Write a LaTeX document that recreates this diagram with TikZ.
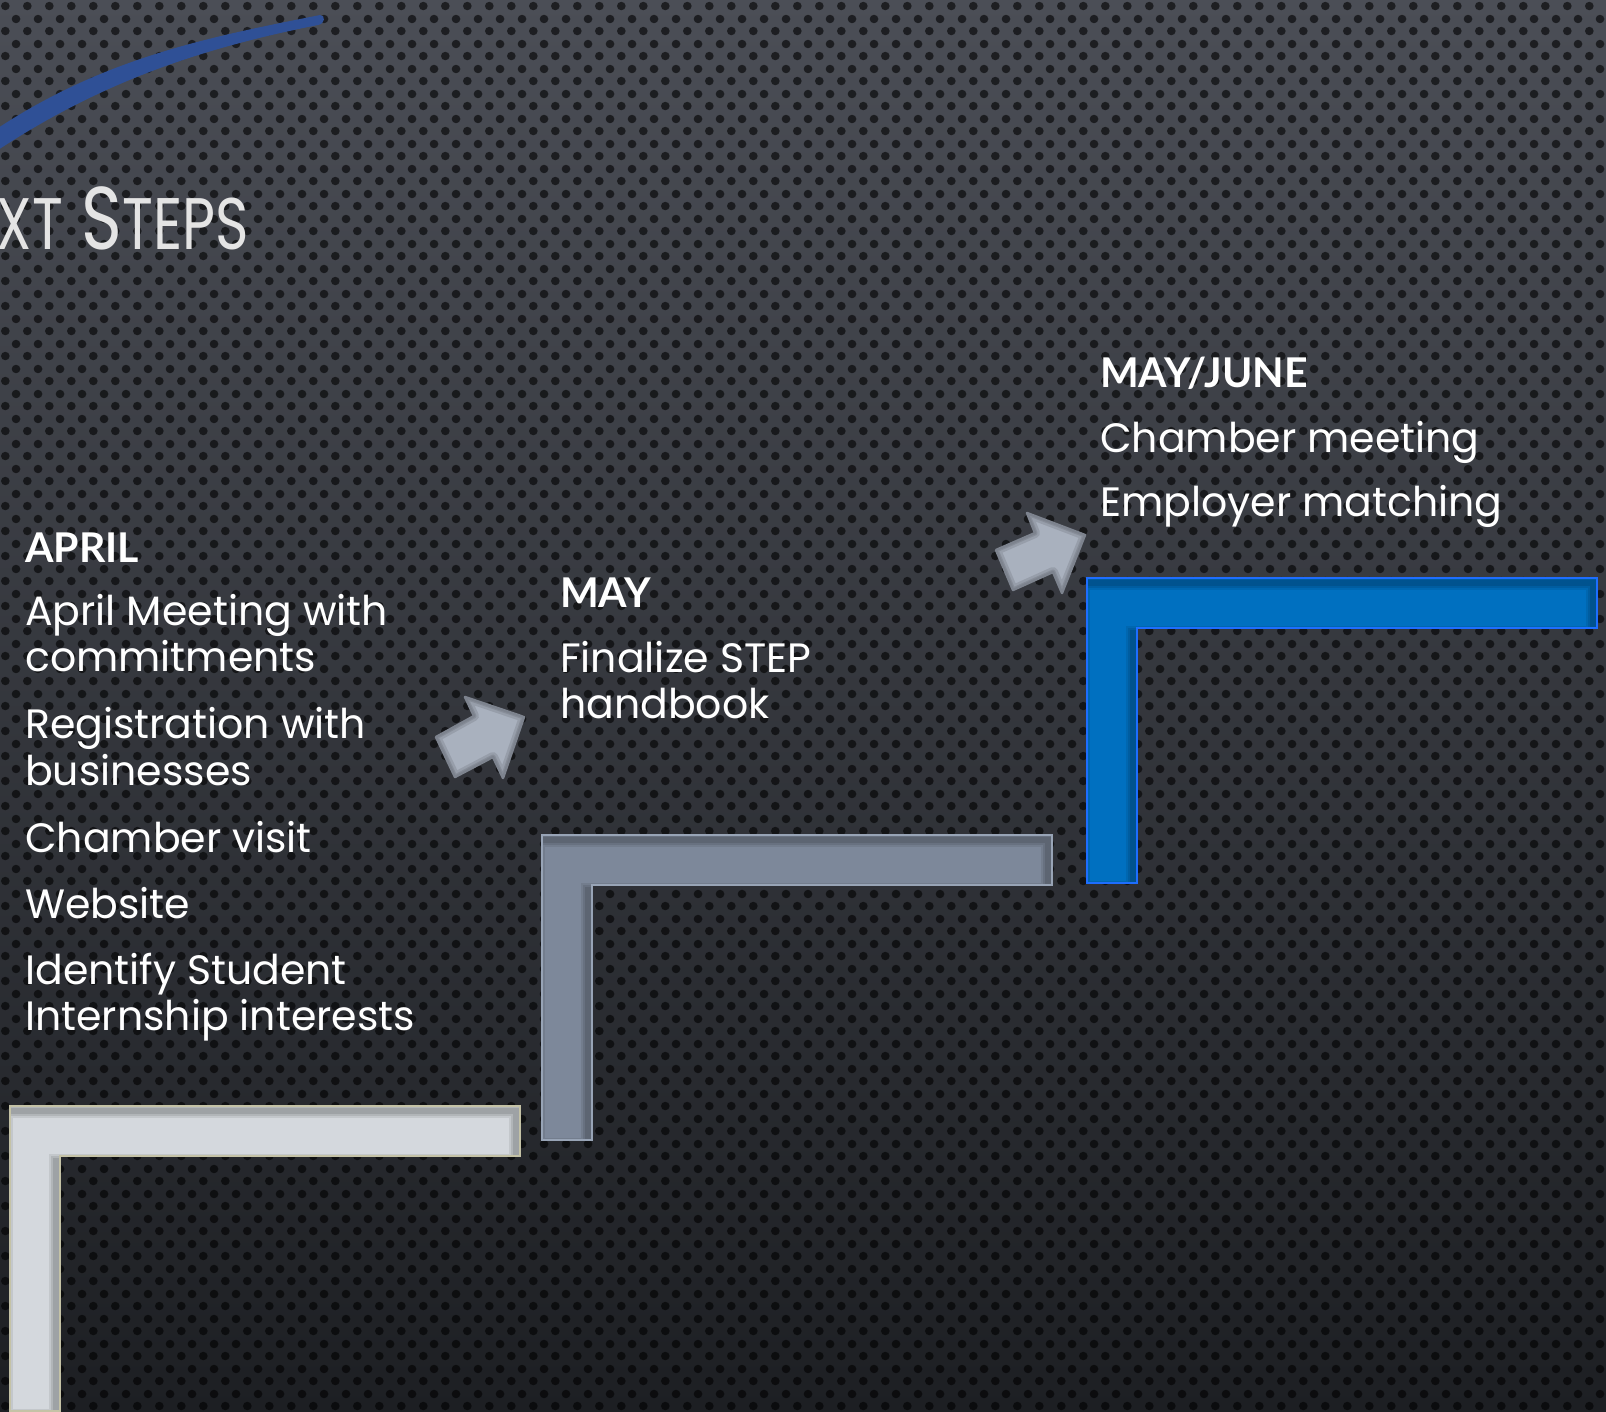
\documentclass[tikz,border=0pt]{standalone}
\usepackage{fontspec}
\setmainfont{Poppins}
\newfontfamily\headfont{Lato}
\usetikzlibrary{patterns.meta}

\definecolor{bgtop}{RGB}{75,78,86}
\definecolor{bgmid}{RGB}{52,55,61}
\definecolor{bgbottom}{RGB}{29,31,35}
\definecolor{swoosh}{RGB}{47,80,150}
\definecolor{stairlight}{RGB}{212,216,221}
\definecolor{edgelight}{RGB}{196,194,166}
\definecolor{stairslate}{RGB}{125,136,154}
\definecolor{edgeslate}{RGB}{152,164,182}
\definecolor{stairblue}{RGB}{0,112,192}
\definecolor{edgeblue}{RGB}{30,110,255}
\definecolor{arrowgray}{RGB}{169,177,190}
\definecolor{arrowedge}{RGB}{125,131,142}

\tikzdeclarepattern{
  name=holes,
  type=uncolored,
  bounding box={(0pt,0pt) and (21.7pt,25pt)},
  tile size={(21.7pt,25pt)},
  code={
    \fill (5.4pt,6.2pt) circle [radius=4.4pt];
    \fill (16.25pt,18.7pt) circle [radius=4.4pt];
  }
}

\tikzset{
  stairshape/.style={insert path={(0,0) -- (510,0) -- (510,50) -- (50,50) -- (50,305) -- (0,305) -- cycle}},
}

% one step of the staircase: position, fill, edge
\newcommand\stairstep[3]{%
  \begin{scope}[shift={#1}]
    \fill[#2, stairshape];
    \begin{scope}
      \path[clip, stairshape];
      \foreach \w/\o in {14/.08, 10/.09, 6/.1} {
        \draw[black, opacity=\o, line width=\w pt, shift={(-4,5)}, stairshape];
      }
    \end{scope}
    \draw[#3, line width=2.5pt, stairshape];
  \end{scope}}

\newcommand\blockarrow[1]{%
  \fill[arrowgray] #1;
  \begin{scope}
    \clip #1;
    \draw[black, opacity=.1, line width=10pt, line join=round] #1;
    \draw[black, opacity=.1, line width=5pt, line join=round] #1;
  \end{scope}
  \draw[arrowedge, line width=2.5pt, line join=round] #1;}

\newcommand\titlesc{\fontsize{73}{73}\selectfont}

\begin{document}
\begin{tikzpicture}[x=1pt, y=-1pt]

        \clip (0,0) rectangle (1606,1411);

        % background
        \fill[top color=bgtop, middle color=bgmid, bottom color=bgbottom] (0,0) rectangle (1606,1411);
        \fill[pattern=holes, pattern color=black, fill opacity=.6] (0,0) rectangle (1606,1411);

        % swoosh
        \fill[swoosh] (-5,130) .. controls (105,57) and (210,37) .. (320,15)
          .. controls (326,15) and (325,24) .. (318,25)
          .. controls (208,47) and (105,79) .. (-5,152) -- cycle;

        % steps
        \stairstep{(10,1106)}{stairlight}{edgelight}
        \stairstep{(542,835)}{stairslate}{edgeslate}
        \stairstep{(1087,578)}{stairblue}{edgeblue}

        % arrows
        \blockarrow{(436,737) -- (474,716) -- (465,697) -- (524,717) -- (503,778) -- (493,757) -- (455,777) -- cycle}
        \blockarrow{(996,550) -- (1035,533) -- (1027,513) -- (1085,535) -- (1062,593) -- (1053,572) -- (1013,590) -- cycle}

        \node[anchor=base east, inner sep=0pt, xscale=.78, text={rgb,255:red,228;green,228;blue,228},
              font=\fontsize{89}{89}\selectfont] (title) at (249,249) {N{\titlesc EXT} S{\titlesc TEPS}};

        \begin{scope}[every node/.style={anchor=base west, inner sep=0pt, text=white}]

          \begin{scope}[every node/.append style={font=\headfont\bfseries\fontsize{41}{41}\selectfont}]
            \node (april)   at (25,562)   {APRIL};
            \node (may)     at (560,607)  {MAY};
            \node (mayjune) at (1100,387) {MAY/JUNE};
          \end{scope}

          \begin{scope}[every node/.append style={font=\fontsize{41}{46}\selectfont}]
            \node (april1a) at (25,625)   {April Meeting with};
            \node (april1b) at (25,671)   {commitments};
            \node (april2a) at (25,738)   {Registration with};
            \node (april2b) at (25,785)   {businesses};
            \node (april3)  at (25,852)   {Chamber visit};
            \node (april4)  at (25,918)   {Website};
            \node (april5a) at (25,984)   {Identify Student};
            \node (april5b) at (25,1030)  {Internship interests};
            \node (may1a)   at (560,672)  {Finalize STEP};
            \node (may1b)   at (560,718)  {handbook};
            \node (june1)   at (1100,452) {Chamber meeting};
            \node (june2)   at (1100,516) {Employer matching};
          \end{scope}
        \end{scope}

      \end{tikzpicture}
\end{document}
